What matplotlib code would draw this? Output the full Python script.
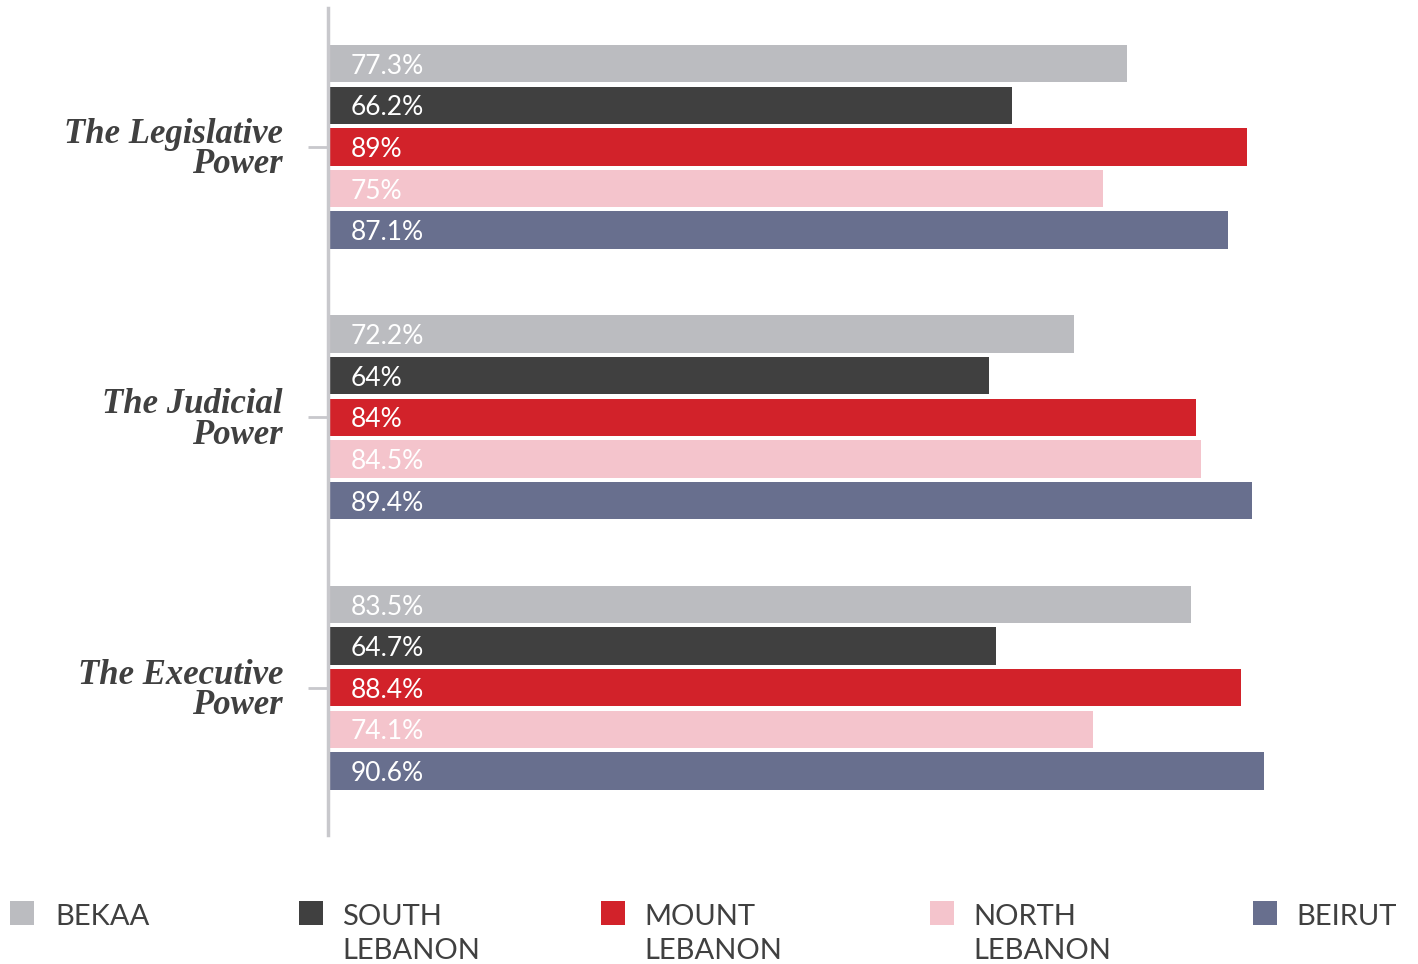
import numpy as np
import matplotlib.pyplot as plt
from matplotlib.patches import Rectangle

# data
powers = ['The Legislative\nPower', 'The Judicial\nPower', 'The Executive\nPower']
regions = ['BEKAA', 'SOUTH\nLEBANON', 'MOUNT\nLEBANON', 'NORTH\nLEBANON', 'BEIRUT']
colors = ['#BBBCC0', '#404040', '#D2222A', '#F4C4CC', '#686F8E']

bekaa = [77.3, 72.2, 83.5]
south = [66.2, 64.0, 64.7]
mount = [89.0, 84.0, 88.4]
north = [75.0, 84.5, 74.1]
beirut = [87.1, 89.4, 90.6]
labels = [
    ['77.3%', '66.2%', '89%', '75%', '87.1%'],
    ['72.2%', '64%', '84%', '84.5%', '89.4%'],
    ['83.5%', '64.7%', '88.4%', '74.1%', '90.6%'],
]
series = [bekaa, south, mount, north, beirut]

W, H = 1418, 964
fig = plt.figure(figsize=(W / 100, H / 100), dpi=100)
ax = fig.add_axes([328 / W, (H - 835) / H, (W - 328) / W, 827 / H])

group_step = 6.5
for g in range(len(powers)):
    for i, vals in enumerate(series):
        y = g * group_step + i
        ax.barh(y, vals[g], height=0.9, color=colors[i], left=0)
        ax.text(2.2, y, labels[g][i], color='white', va='center_baseline', ha='left',
                fontsize=19, family='Lato')

ax.set_xlim(0, 1090 / 10.33)
ax.set_ylim(17 + 1.54, -1.34)

ticks = [g * group_step + 2 for g in range(len(powers))]
ax.set_yticks(ticks)
ax.set_yticklabels(powers, family='Liberation Serif', fontweight='bold', style='italic',
                   fontsize=25, color='#404040', ha='right', linespacing=0.9)
ax.tick_params(axis='y', length=14.4, width=2, color='#C8C8CC', pad=18)
ax.set_xticks([])
for s in ['top', 'right', 'bottom']:
    ax.spines[s].set_visible(False)
ax.spines['left'].set_color('#C8C8CC')
ax.spines['left'].set_linewidth(2.5)

# legend along the bottom
sq_x = [10, 299, 601, 930, 1253]
txt_x = [55, 342, 644, 973, 1296]
for i, name in enumerate(regions):
    fig.add_artist(Rectangle((sq_x[i] / W, (H - 925) / H), 24 / W, 24 / H,
                             transform=fig.transFigure, color=colors[i], lw=0))
    for k, line in enumerate(name.split('\n')):
        fig.text(txt_x[i] / W, (H - 925 - 34 * k) / H, line, ha='left', va='baseline',
                 fontsize=21, family='Lato', color='#404040')

fig.savefig('out.png', dpi=100)
